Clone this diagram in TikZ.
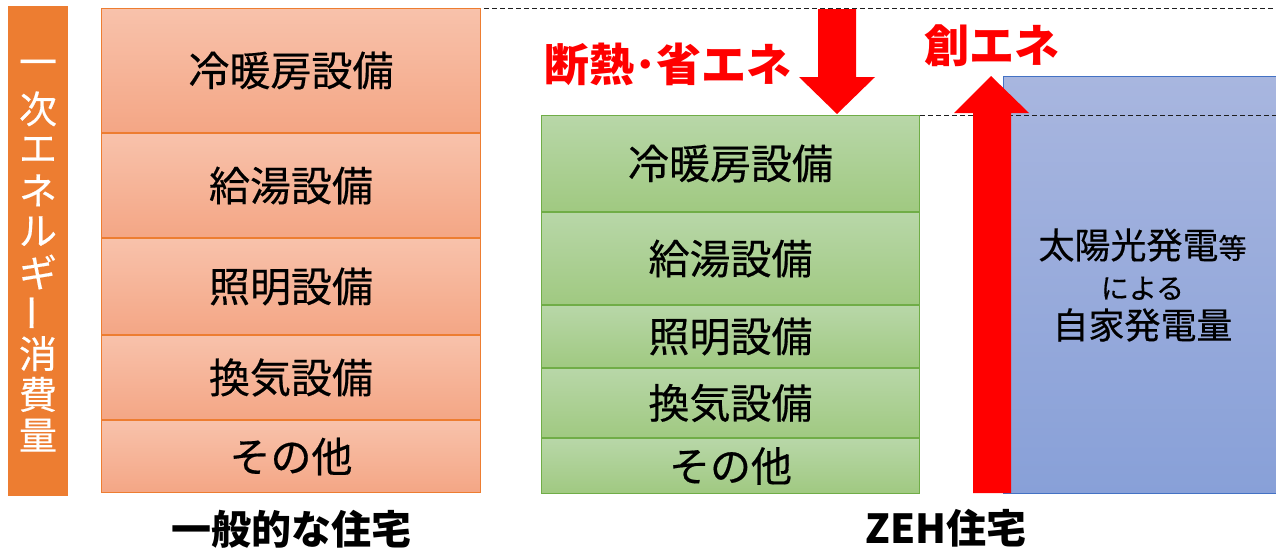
\documentclass[tikz,border=0pt]{standalone}
\usepackage{fontspec}
\setmainfont{Noto Sans CJK JP}
\newfontfamily\cellfont{Noto Sans CJK JP}[FakeBold=0.4]
\usepackage{tikz}
\usetikzlibrary{positioning}

\definecolor{orangeedge}{RGB}{237,125,49}
\definecolor{orangetop}{RGB}{248,194,171}
\definecolor{orangebot}{RGB}{244,166,133}
\definecolor{greenedge}{RGB}{112,173,71}
\definecolor{greentop}{RGB}{184,215,168}
\definecolor{greenbot}{RGB}{160,201,129}
\definecolor{blueedge}{RGB}{68,114,196}
\definecolor{bluetop}{RGB}{168,182,223}
\definecolor{bluebot}{RGB}{136,160,216}
\definecolor{guidegray}{RGB}{30,30,30}

\begin{document}
\begin{tikzpicture}[x=1pt,y=-1pt,node distance=0pt]
	\tikzstyle{ocell} = [draw=orangeedge, line width=1pt, top color=orangetop, bottom color=orangebot, minimum width=379pt, inner sep=0pt, font=\cellfont\fontsize{41}{44}\selectfont]
	\tikzstyle{gcell} = [draw=greenedge, line width=1pt, top color=greentop, bottom color=greenbot, minimum width=378pt, inner sep=0pt, font=\cellfont\fontsize{41}{44}\selectfont]
	\tikzstyle{guide} = [guidegray, line width=1pt, dash pattern=on 5pt off 3pt]
	\tikzstyle{redlabel} = [text=red, inner sep=0pt, font=\fontsize{45}{48}\selectfont\bfseries]
	\tikzstyle{housename} = [inner sep=0pt, font=\fontsize{40}{44}\selectfont\bfseries]

	\useasboundingbox (0,0) rectangle (1276,552);
	\coordinate (rim) at (1276,0);

	\node[fill=orangeedge, anchor=north west, minimum width=60pt, minimum height=490pt] (axis) at (8,6) {};
	\foreach \ch/\rot [count=\i from 0] in {一/0,次/0,エ/0,ネ/0,ル/0,ギ/0,ー/90,消/0,費/0,量/0}
		\node[text=white, rotate=\rot, inner sep=0pt, font=\cellfont\fontsize{38}{38}\selectfont] (axis\i) at (38,68+40.8*\i) {\ch};

	\node[ocell, minimum height=124pt, anchor=north west] (oheat) at (101,8) {冷暖房設備};
	\node[ocell, minimum height=104pt, below=of oheat] (owater) {給湯設備};
	\node[ocell, minimum height=96pt, below=of owater] (olight) {照明設備};
	\node[ocell, minimum height=84pt, below=of olight] (oair) {換気設備};
	\node[ocell, minimum height=72pt, below=of oair] (oother) {その他};

	\node[gcell, minimum height=96pt, anchor=north west] (gheat) at (541,115) {冷暖房設備};
	\node[gcell, minimum height=92pt, below=of gheat] (gwater) {給湯設備};
	\node[gcell, minimum height=62pt, below=of gwater] (glight) {照明設備};
	\node[gcell, minimum height=69pt, below=of glight] (gair) {換気設備};
	\node[gcell, minimum height=55pt, below=of gair] (gother) {その他};

	\node[draw=blueedge, line width=1pt, top color=bluetop, bottom color=bluebot, anchor=north west, minimum width=278pt, minimum height=417pt, align=center, font=\cellfont\fontsize{36}{40}\selectfont] (solar) at (1003,76) {太陽光発電{\fontsize{28}{30}\selectfont 等}\\{\fontsize{28}{30}\selectfont による}\\自家発電量};

	\draw[guide] ([xshift=3pt]oheat.north east) -- (oheat.north east -| rim);
	\draw[guide] (gheat.north east) -- (gheat.north east -| rim);

	\fill[red] (818,9) -- (856,9) -- (856,77) -- (875,77) -- (837,114) -- (799,77) -- (818,77) -- cycle;
	\fill[red] (973,493) -- (1011,493) -- (1011,113) -- (1029,113) -- (991,76) -- (954,113) -- (973,113) -- cycle;

	\node[redlabel] (saving) at (668,64) {断熱･省エネ};
	\node[redlabel] (creating) at (992,46) {創エネ};

	\node[housename] (ordinary) at ([yshift=-36pt]oother.south) {一般的な住宅};
	\node[housename] (zeh) at (946,528) {ZEH住宅};
\end{tikzpicture}
\end{document}
